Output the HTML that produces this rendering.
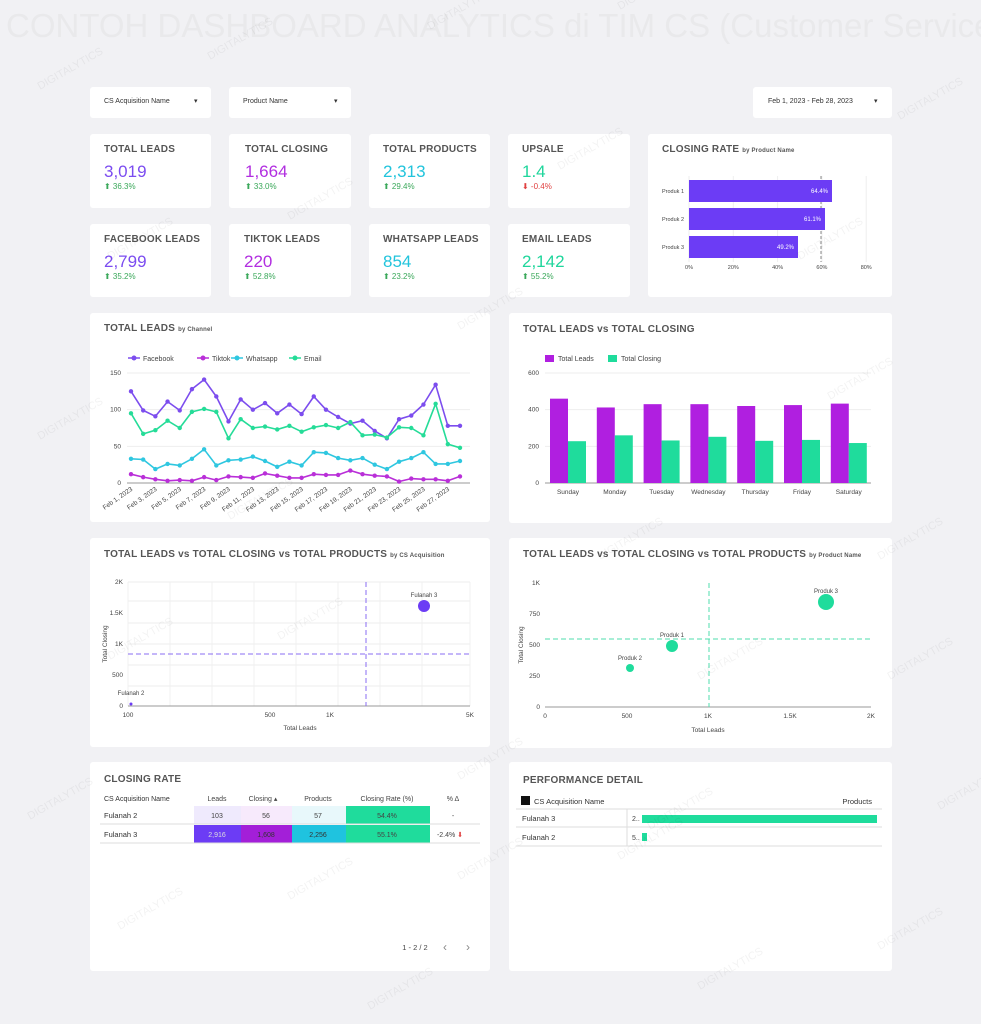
<!DOCTYPE html>
<html><head><meta charset="utf-8">
<style>
*{margin:0;padding:0;box-sizing:border-box}
body{width:981px;height:1024px;background:#f1f1f4;font-family:"Liberation Sans",sans-serif;position:relative;overflow:hidden;color:#444}
.c{position:absolute;background:#fff;border-radius:3px}
.t{position:absolute;font-weight:bold;font-size:10px;color:#555;letter-spacing:.2px}
.t small{font-size:6px}
.v{position:absolute;font-size:17px}
.d{position:absolute;font-size:8px;color:#3aa85a}
.f{position:absolute;font-size:7px;color:#333}
svg{position:absolute;left:0;top:0}
</style></head><body>
<div style="position:absolute;left:6px;top:7px;font-size:33px;color:#e9e9eb;white-space:nowrap">CONTOH DASHBOARD ANALYTICS di TIM CS (Customer Service</div>

<div class="c" style="left:90px;top:87px;width:121px;height:31px"><span class="f" style="left:14px;top:11px">CS Acquisition Name</span><span class="f" style="left:104px;top:10px">▾</span></div>
<div class="c" style="left:229px;top:87px;width:122px;height:31px"><span class="f" style="left:14px;top:11px">Product Name</span><span class="f" style="left:105px;top:10px">▾</span></div>
<div class="c" style="left:753px;top:87px;width:139px;height:31px"><span class="f" style="left:15px;top:11px">Feb 1, 2023 - Feb 28, 2023</span><span class="f" style="left:121px;top:10px">▾</span></div>

<div class="c" style="left:90px;top:134px;width:121px;height:74px"><span class="t" style="left:14px;top:10px">TOTAL LEADS</span><span class="v" style="left:14px;top:28px;color:#7b4cf0">3,019</span><span class="d" style="left:14px;top:48px">⬆ 36.3%</span></div>
<div class="c" style="left:229px;top:134px;width:122px;height:74px"><span class="t" style="left:16px;top:10px">TOTAL CLOSING</span><span class="v" style="left:16px;top:28px;color:#b12ee0">1,664</span><span class="d" style="left:16px;top:48px">⬆ 33.0%</span></div>
<div class="c" style="left:369px;top:134px;width:121px;height:74px"><span class="t" style="left:14px;top:10px">TOTAL PRODUCTS</span><span class="v" style="left:14px;top:28px;color:#22c4dc">2,313</span><span class="d" style="left:14px;top:48px">⬆ 29.4%</span></div>
<div class="c" style="left:508px;top:134px;width:122px;height:74px"><span class="t" style="left:14px;top:10px">UPSALE</span><span class="v" style="left:14px;top:28px;color:#1fd69c">1.4</span><span class="d" style="left:14px;top:48px;color:#e04040">⬇ -0.4%</span></div>
<div class="c" style="left:90px;top:224px;width:121px;height:73px"><span class="t" style="left:14px;top:10px">FACEBOOK LEADS</span><span class="v" style="left:14px;top:28px;color:#7b4cf0">2,799</span><span class="d" style="left:14px;top:48px">⬆ 35.2%</span></div>
<div class="c" style="left:229px;top:224px;width:122px;height:73px"><span class="t" style="left:15px;top:10px">TIKTOK LEADS</span><span class="v" style="left:15px;top:28px;color:#b12ee0">220</span><span class="d" style="left:15px;top:48px">⬆ 52.8%</span></div>
<div class="c" style="left:369px;top:224px;width:121px;height:73px"><span class="t" style="left:14px;top:10px">WHATSAPP LEADS</span><span class="v" style="left:14px;top:28px;color:#22c4dc">854</span><span class="d" style="left:14px;top:48px">⬆ 23.2%</span></div>
<div class="c" style="left:508px;top:224px;width:122px;height:73px"><span class="t" style="left:14px;top:10px">EMAIL LEADS</span><span class="v" style="left:14px;top:28px;color:#1fd69c">2,142</span><span class="d" style="left:14px;top:48px">⬆ 55.2%</span></div>

<div class="c" style="left:648px;top:134px;width:244px;height:163px"><span class="t" style="left:14px;top:10px">CLOSING RATE <small>by Product Name</small></span></div>
<div class="c" style="left:90px;top:313px;width:400px;height:209px"><span class="t" style="left:14px;top:10px">TOTAL LEADS <small>by Channel</small></span></div>
<div class="c" style="left:509px;top:313px;width:383px;height:210px"><span class="t" style="left:14px;top:11px">TOTAL LEADS vs TOTAL CLOSING</span></div>
<div class="c" style="left:90px;top:538px;width:400px;height:209px"><span class="t" style="left:14px;top:11px">TOTAL LEADS vs TOTAL CLOSING vs TOTAL PRODUCTS <small>by CS Acquisition</small></span></div>
<div class="c" style="left:509px;top:538px;width:383px;height:210px"><span class="t" style="left:14px;top:11px">TOTAL LEADS vs TOTAL CLOSING vs TOTAL PRODUCTS <small>by Product Name</small></span></div>
<div class="c" style="left:90px;top:762px;width:400px;height:209px"><span class="t" style="left:14px;top:12px">CLOSING RATE</span></div>
<div class="c" style="left:509px;top:762px;width:383px;height:209px"><span class="t" style="left:14px;top:13px">PERFORMANCE DETAIL</span></div>

<svg id="s" width="981" height="1024" font-family="Liberation Sans, sans-serif"></svg>
<script>
var s='';
function T(x,y,t,o){s+='<text x="'+x+'" y="'+y+'" font-size="'+((o&&o.fs)||6)+'" fill="'+((o&&o.c)||'#444')+'"'+((o&&o.a)?' text-anchor="'+o.a+'"':'')+((o&&o.r)?' transform="rotate('+o.r+' '+x+' '+y+')"':'')+'>'+t+'</text>';}
function L(a,b,c,d,col,w,da){s+='<line x1="'+a+'" y1="'+b+'" x2="'+c+'" y2="'+d+'" stroke="'+col+'" stroke-width="'+(w||1)+'"'+(da?' stroke-dasharray="'+da+'"':'')+'/>';}
function R(x,y,w,h,c){s+='<rect x="'+x+'" y="'+y+'" width="'+w+'" height="'+h+'" fill="'+c+'"/>';}
function C(x,y,r,c){s+='<circle cx="'+x+'" cy="'+y+'" r="'+r+'" fill="'+c+'"/>';}
[0,20,40,60,80].forEach(function(v,i){var x=689+i*44.3;T(x,269,v+'%',{fs:5.5,a:'middle'});L(x,176,x,262,'#eee');});
L(821,176,821,262,'#888',1,'3,2');
[['Produk 1',832,'64.4%'],['Produk 2',825,'61.1%'],['Produk 3',798,'49.2%']].forEach(function(p,i){var y=180+i*28;R(689,y,p[1]-689,22,'#6c3cf5');T(684,y+13,p[0],{fs:5.5,a:'end'});T(p[1]-4,y+13,p[2],{fs:6,a:'end',c:'#fff'});});
var X0=131,dx=(460-131)/27,Y0=483,k=110/150;
[0,50,100,150].forEach(function(v){var y=Y0-v*k;L(127,y,470,y,'#eee');T(121,y+2,v,{fs:6.5,a:'end'});});
L(127,Y0,470,Y0,'#999');
var ser=[['#7c4dee','Facebook',[125,99,91,111,99,128,141,118,84,114,100,109,95,107,94,118,100,90,81,85,71,61,87,92,107,134,78,78]],
['#b92fd8','Tiktok',[12,8,5,3,4,3,8,4,9,8,7,13,10,7,7,12,11,11,17,12,10,9,2,6,5,5,3,9]],
['#2fc7e0','Whatsapp',[33,32,19,26,24,33,46,24,31,32,36,30,22,29,24,42,41,34,31,34,25,19,29,34,42,26,26,30]],
['#25dc98','Email',[95,67,72,85,75,97,101,97,61,87,75,77,73,78,70,76,79,75,83,65,66,62,76,75,65,108,53,48]]];
var lx=[128,197,231,289];
ser.forEach(function(q,j){L(lx[j],358,lx[j]+12,358,q[0],1.5);C(lx[j]+6,358,2.5,q[0]);T(lx[j]+15,361,q[1],{fs:7});
var p=q[2].map(function(v,i){return (X0+i*dx).toFixed(1)+','+(Y0-v*k).toFixed(1)}).join(' ');
s+='<polyline points="'+p+'" fill="none" stroke="'+q[0]+'" stroke-width="1.6" stroke-linejoin="round"/>';
q[2].forEach(function(v,i){C(X0+i*dx,Y0-v*k,2.2,q[0]);});});
for(var i=0;i<28;i+=2)T(X0+i*dx+2,490,'Feb '+(i+1)+', 2023',{fs:6.5,a:'end',r:-35});
[0,200,400,600].forEach(function(v){var y=483-v*110/600;L(545,y,871,y,'#eee');T(539,y+2,v,{fs:6.5,a:'end'});});
L(545,483,871,483,'#999');
R(545,355,9,7,'#b01fe0');T(558,361,'Total Leads',{fs:7});R(608,355,9,7,'#1fdc9c');T(621,361,'Total Closing',{fs:7});
var days=['Sunday','Monday','Tuesday','Wednesday','Thursday','Friday','Saturday'],ld=[460,412,430,430,420,425,433],cl=[228,260,232,252,230,235,218];
days.forEach(function(d,i){var x=559+i*46.8;R(x-9,483-ld[i]*110/600,18,ld[i]*110/600,'#b01fe0');R(x+9,483-cl[i]*110/600,18,cl[i]*110/600,'#1fdc9c');T(x+9,494,d,{fs:6.5,a:'middle'});});
[582,601,623,644,665,686].forEach(function(y){L(128,y,470,y,'#eee');});
[128,170,212,254,296,338,380,422,470].forEach(function(x){L(x,582,x,706,'#f0f0f0');});
[['2K',582],['1.5K',613],['1K',644],['500',675],['0',706]].forEach(function(a){T(123,a[1]+2,a[0],{fs:6.5,a:'end'});});
L(128,706,470,706,'#999');
[['100',128],['500',270],['1K',330],['5K',470]].forEach(function(a){T(a[1],717,a[0],{fs:6.5,a:'middle'});});
T(300,730,'Total Leads',{fs:6.5,a:'middle'});T(107,644,'Total Closing',{fs:6.5,a:'middle',r:-90});
L(128,654,470,654,'#8a6cf3',1,'5,3');L(366,582,366,706,'#8a6cf3',1,'5,3');
C(424,606,6,'#6c3cf5');T(424,597,'Fulanah 3',{fs:6,a:'middle'});C(131,704,1.5,'#6c3cf5');T(131,695,'Fulanah 2',{fs:6,a:'middle'});
[['1K',583],['750',614],['500',645],['250',676],['0',707]].forEach(function(a){T(540,a[1]+2,a[0],{fs:6.5,a:'end'});});
L(545,707,871,707,'#999');
[['0',545],['500',627],['1K',708],['1.5K',790],['2K',871]].forEach(function(a){T(a[1],718,a[0],{fs:6.5,a:'middle'});});
T(708,732,'Total Leads',{fs:6.5,a:'middle'});T(523,645,'Total Closing',{fs:6.5,a:'middle',r:-90});
L(545,639,871,639,'#4fdcae',1,'5,3');L(709,583,709,707,'#4fdcae',1,'5,3');
C(826,602,8,'#1fdc9c');T(826,593,'Produk 3',{fs:6,a:'middle'});C(672,646,6,'#1fdc9c');T(672,637,'Produk 1',{fs:6,a:'middle'});C(630,668,4,'#1fdc9c');T(630,660,'Produk 2',{fs:6,a:'middle'});
T(104,801,'CS Acquisition Name',{fs:7,c:'#333'});T(217,801,'Leads',{fs:7,a:'middle'});T(263,801,'Closing ▴',{fs:7,a:'middle'});T(318,801,'Products',{fs:7,a:'middle'});T(387,801,'Closing Rate (%)',{fs:7,a:'middle'});T(453,801,'% Δ',{fs:7,a:'middle'});
R(194,806,47,18,'#efeafd');R(241,806,51,18,'#f7eafc');R(292,806,54,18,'#e8f8fb');R(346,806,84,18,'#1fdc9c');
R(194,825,47,18,'#6c3cf5');R(241,825,51,18,'#a31fd8');R(292,825,54,18,'#1fc3df');R(346,825,84,18,'#1fdc9c');
L(100,824,480,824,'#ddd');L(100,843,480,843,'#ddd');
T(104,818,'Fulanah 2',{fs:7.5,c:'#333'});T(217,818,'103',{fs:7,a:'middle'});T(266,818,'56',{fs:7,a:'middle'});T(318,818,'57',{fs:7,a:'middle'});T(387,818,'54.4%',{fs:7,a:'middle'});T(453,818,'-',{fs:7,a:'middle'});
T(104,837,'Fulanah 3',{fs:7.5,c:'#333'});T(217,837,'2,916',{fs:7,a:'middle',c:'#ddd'});T(266,837,'1,608',{fs:7,a:'middle',c:'#333'});T(318,837,'2,256',{fs:7,a:'middle',c:'#333'});T(387,837,'55.1%',{fs:7,a:'middle'});T(450,837,'-2.4% <tspan fill="#e04040">⬇</tspan>',{fs:7,a:'middle'});
T(415,950,'1 - 2 / 2',{fs:7.5,a:'middle'});T(445,951,'‹',{fs:12,a:'middle',c:'#888'});T(468,951,'›',{fs:12,a:'middle',c:'#888'});
R(521,796,9,9,'#111');T(534,804,'CS Acquisition Name',{fs:7.5,c:'#333'});T(872,804,'Products',{fs:7.5,a:'end',c:'#333'});
L(516,809,882,809,'#ddd');L(516,827,882,827,'#ddd');L(516,846,882,846,'#ddd');L(627,809,627,846,'#ddd');
T(522,821,'Fulanah 3',{fs:7.5,c:'#333'});T(632,821,'2..',{fs:7});R(642,815,235,8,'#1fdc9c');
T(522,840,'Fulanah 2',{fs:7.5,c:'#333'});T(632,840,'5..',{fs:7});R(642,833,5,8,'#1fdc9c');
[[40,90],[210,60],[430,30],[620,10],[780,0],[900,120],[110,260],[290,220],[560,170],[800,260],[40,440],[460,330],[830,400],[230,520],[600,560],[880,560],[110,660],[280,640],[700,680],[890,680],[30,820],[460,780],[650,830],[940,810],[120,930],[290,900],[460,880],[620,860],[880,950],[700,990],[370,1010]].forEach(function(p){T(p[0],p[1],'DIGITALYTICS',{fs:11,c:'rgba(0,0,0,0.05)',r:-30});});
document.getElementById('s').innerHTML=s;
</script>
</body></html>
